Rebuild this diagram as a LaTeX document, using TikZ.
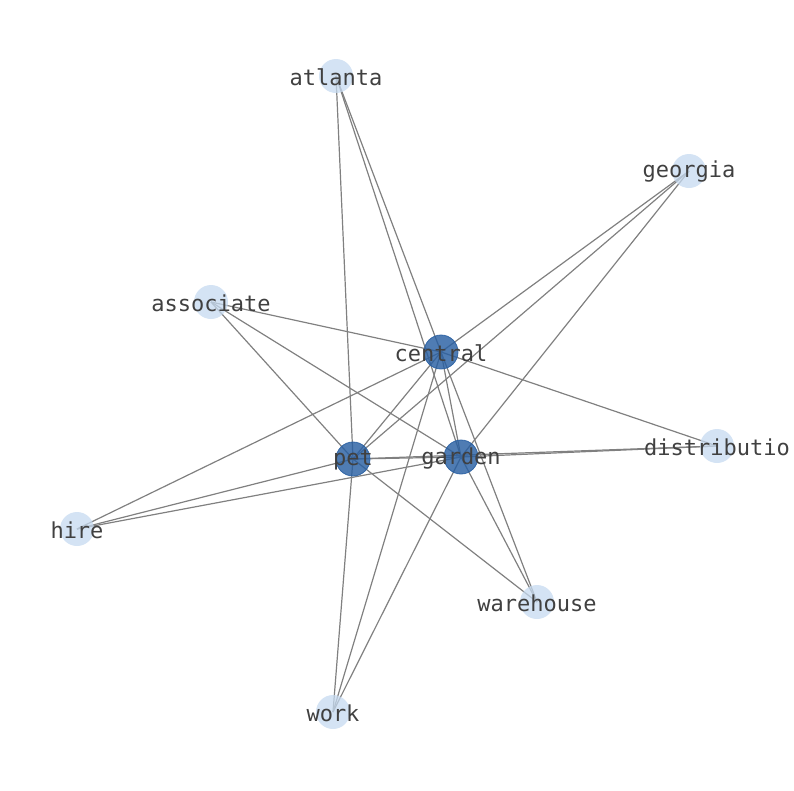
\documentclass[tikz,border=0pt]{standalone}
\usepackage{fontspec}
\newfontfamily\labelfont{DejaVu Sans Mono}
\definecolor{hubblue}{RGB}{40,95,162}
\definecolor{leafblue}{RGB}{198,218,240}
\definecolor{edgegray}{RGB}{128,128,128}
\definecolor{labelgray}{RGB}{64,64,64}
\tikzset{
  hub/.style={circle,minimum size=34pt,inner sep=0pt,fill=hubblue,fill opacity=0.82,draw=hubblue,draw opacity=0.9,line width=0.8pt},
  leaf/.style={circle,minimum size=34pt,inner sep=0pt,fill=leafblue,fill opacity=0.75,draw=none},
  lbl/.style={font=\labelfont\fontsize{22}{22}\selectfont,text=labelgray,inner sep=0pt},
  edge/.style={draw=edgegray,line width=1.2pt}
}
\begin{document}
\begin{tikzpicture}[x=1pt,y=-1pt]
\useasboundingbox (0,0) rectangle (794,790);
% coordinates
\coordinate (atlanta) at (336,76);
\coordinate (georgia) at (689,171);
\coordinate (associate) at (211,302);
\coordinate (central) at (441,352);
\coordinate (distributio) at (717,446);
\coordinate (pet) at (353,459);
\coordinate (garden) at (461,457);
\coordinate (hire) at (77,529);
\coordinate (warehouse) at (537,602);
\coordinate (work) at (333,712);
% edges
\foreach \a/\b in {atlanta/pet,atlanta/central,atlanta/garden,
  georgia/central,georgia/pet,georgia/garden,
  associate/central,associate/garden,associate/pet,
  central/hire,central/distributio,central/work,central/warehouse,central/pet,central/garden,
  garden/pet,garden/hire,garden/distributio,garden/work,garden/warehouse,
  pet/hire,pet/work,pet/distributio,pet/warehouse}
  \draw[edge] (\a) -- (\b);
% nodes (circles)
\node[leaf] (n-atlanta) at (atlanta) {};
\node[leaf] (n-georgia) at (georgia) {};
\node[leaf] (n-associate) at (associate) {};
\node[leaf] (n-distributio) at (distributio) {};
\node[leaf] (n-hire) at (hire) {};
\node[leaf] (n-warehouse) at (warehouse) {};
\node[leaf] (n-work) at (work) {};
\node[hub] (n-central) at (central) {};
\node[hub] (n-pet) at (pet) {};
\node[hub] (n-garden) at (garden) {};
% labels
\node[lbl] (l-atlanta) at ([yshift=-1pt]atlanta) {atlanta};
\node[lbl] (l-georgia) at ([yshift=-1pt]georgia) {georgia};
\node[lbl] (l-associate) at ([yshift=-1pt]associate) {associate};
\node[lbl] (l-central) at ([yshift=-1pt]central) {central};
\node[lbl] (l-distributio) at ([yshift=-1pt]distributio) {distributio};
\node[lbl] (l-pet) at ([yshift=-1pt]pet) {pet};
\node[lbl] (l-garden) at ([yshift=-1pt]garden) {garden};
\node[lbl] (l-hire) at ([yshift=-1pt]hire) {hire};
\node[lbl] (l-warehouse) at ([yshift=-1pt]warehouse) {warehouse};
\node[lbl] (l-work) at ([yshift=-1pt]work) {work};
\end{tikzpicture}
\end{document}
